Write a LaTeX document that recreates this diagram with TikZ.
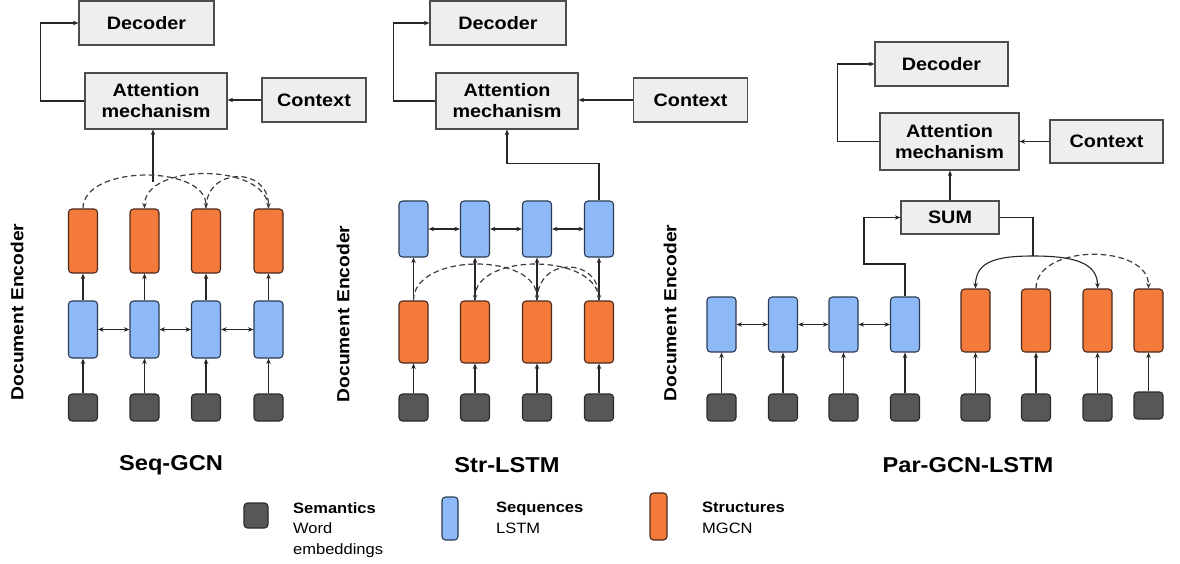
\documentclass[tikz,border=0pt]{standalone}
\usepackage{fontspec}
\setmainfont{Liberation Sans}[FakeStretch=1.1]
\usetikzlibrary{arrows.meta}
\definecolor{boxfill}{HTML}{EEEEEE}
\definecolor{boxline}{HTML}{4D4D4D}
\definecolor{orgfill}{HTML}{F37A3A}
\definecolor{orgline}{HTML}{4A2A1C}
\definecolor{bluefill}{HTML}{8DBAF6}
\definecolor{blueline}{HTML}{2B3A52}
\definecolor{semfill}{HTML}{575757}
\definecolor{semline}{HTML}{2A2A2A}
\definecolor{linec}{HTML}{262626}
\begin{document}
\begin{tikzpicture}[x=1pt,y=-1pt,
  >={Stealth[length=5.5pt,width=4.5pt]},
  box/.style={draw=boxline, fill=boxfill, line width=1.2pt, inner sep=0pt, align=center, font=\bfseries\fontsize{18}{21}\selectfont},
  sem/.style={draw=semline, fill=semfill, line width=1.1pt, rounded corners=3.5pt, minimum width=29pt, minimum height=27pt, inner sep=0pt},
  lstm/.style={draw=blueline, fill=bluefill, line width=1.1pt, rounded corners=3.5pt, minimum width=29pt, inner sep=0pt},
  gcn/.style={draw=orgline, fill=orgfill, line width=1.1pt, rounded corners=3.5pt, minimum width=29pt, inner sep=0pt},
  conn/.style={draw=linec, line width=1.1pt, ->},
  biconn/.style={draw=linec, line width=1.1pt, <->},
  dconn/.style={draw=linec!90, line width=1.2pt, dash pattern=on 5.5pt off 3.5pt, ->},
  plainln/.style={draw=linec, line width=1.1pt},
  ptitle/.style={font=\bfseries\fontsize{21.5}{24}\selectfont},
  enc/.style={font=\bfseries\fontsize{17.5}{20}\selectfont, rotate=90},
  legtxt/.style={font=\fontsize{15}{20.5}\selectfont, align=left, anchor=north west, inner sep=0pt}
]
\useasboundingbox (0,0) rectangle (1180,564);

% ---------- Panel 1: Seq-GCN ----------
\foreach \i/\x in {1/83,2/144.5,3/206,4/268.5} {
  \node[sem] (s1\i) at (\x,407.5) {};
  \node[lstm, minimum height=57pt] (b1\i) at (\x,329.5) {};
  \node[gcn, minimum height=64pt] (o1\i) at (\x,241) {};
  \draw[conn] (s1\i) -- (b1\i);
  \draw[conn] (b1\i) -- (o1\i);
}
\foreach \i/\j in {1/2,2/3,3/4} \draw[biconn] (b1\i) -- (b1\j);
\node[box, minimum width=135pt, minimum height=44pt] (d1) at (146.5,23) {Decoder};
\node[box, minimum width=142pt, minimum height=56pt] (a1) at (156,101) {Attention\\mechanism};
\node[box, minimum width=104pt, minimum height=44pt] (c1) at (314,100) {Context};
\draw[conn] (a1.west) -- ++(-44,0) |- (d1.west);
\draw[conn] (c1.west) -- (a1.east |- c1.west);
\coordinate (m1) at (153,182);
\draw[conn] (m1) -- (m1 |- a1.south);
\draw[dconn] (o11.north) .. controls +(0,-44) and +(0,-44) .. (o13.north);
\draw[dconn] (o14.north) .. controls +(0,-46) and +(0,-46) .. (o12.north);
\draw[dconn] (o13.north) .. controls +(0,-42) and +(0,-42) .. (o14.north);
\node[enc] (e1) at (17,312) {Document Encoder};
\node[ptitle] (t1) at (171,465) {Seq-GCN};

% ---------- Panel 2: Str-LSTM ----------
\foreach \i/\x in {1/413.5,2/475,3/537,4/599} {
  \node[sem] (s2\i) at (\x,407.5) {};
  \node[gcn, minimum height=62pt] (o2\i) at (\x,332) {};
  \node[lstm, minimum height=56pt] (b2\i) at (\x,229) {};
  \draw[conn] (s2\i) -- (o2\i);
  \draw[conn] (o2\i) -- (b2\i);
}
\foreach \i/\j in {1/2,2/3,3/4} \draw[biconn] (b2\i) -- (b2\j);
\node[box, minimum width=136pt, minimum height=44pt] (d2) at (498,23) {Decoder};
\node[box, minimum width=142pt, minimum height=56pt] (a2) at (507,101) {Attention\\mechanism};
\node[box, minimum width=114pt, minimum height=44pt] (c2) at (690.5,100) {Context};
\draw[conn] (a2.west) -- ++(-42,0) |- (d2.west);
\draw[conn] (c2.west) -- (a2.east |- c2.west);
\draw[conn] (b24.north) -- ++(0,-37) -| (a2.south);
\draw[dconn] (o21.north) .. controls +(0,-48) and +(0,-48) .. (o23.north);
\draw[dconn] (o24.north) .. controls +(0,-48) and +(0,-48) .. (o22.north);
\draw[dconn] (o23.north) .. controls +(0,-44) and +(0,-44) .. (o24.north);
\node[enc] (e2) at (343,314) {Document Encoder};
\node[ptitle] (t2) at (507,465) {Str-LSTM};

% ---------- Panel 3: Par-GCN-LSTM ----------
\foreach \i/\x in {1/721.5,2/783,3/843.5,4/905} {
  \node[sem] (s3\i) at (\x,407.5) {};
  \node[lstm, minimum height=55pt] (b3\i) at (\x,324.5) {};
  \draw[conn] (s3\i) -- (b3\i);
}
\foreach \i/\x/\y in {1/975.5/407.5,2/1036/407.5,3/1097.5/407.5,4/1148.5/405.5} {
  \node[sem] (g3\i) at (\x,\y) {};
  \node[gcn, minimum height=63pt] (o3\i) at (\x,320.5) {};
  \draw[conn] (g3\i) -- (o3\i);
}
\foreach \i/\j in {1/2,2/3,3/4} \draw[biconn] (b3\i) -- (b3\j);
\node[box, minimum width=133pt, minimum height=44pt] (d3) at (941.5,64) {Decoder};
\node[box, minimum width=139pt, minimum height=57pt] (a3) at (949.5,141.5) {Attention\\mechanism};
\node[box, minimum width=113pt, minimum height=43pt] (c3) at (1106.5,141.5) {Context};
\node[box, minimum width=98pt, minimum height=33pt] (sum) at (950,217.5) {SUM};
\draw[conn] (a3.west) -- ++(-42,0) |- (d3.west);
\draw[conn] (c3.west) -- (a3.east);
\draw[conn] (sum.north) -- (sum.north |- a3.south);
\coordinate (j3) at (864,264);
\draw[conn] (b34.north) |- (j3) |- (sum.west);
\coordinate (h3) at (1033,256);
\draw[plainln] (sum.east) -| (h3);
\draw[conn] (h3) .. controls (995,256) and (975.5,262) .. (o31.north);
\draw[conn] (h3) .. controls (1072,256) and (1097.5,262) .. (o33.north);
\draw[dconn] (o32.north) .. controls +(0,-45) and +(0,-45) .. (o34.north);
\node[enc] (e3) at (670,313) {Document Encoder};
\node[ptitle] (t3) at (968,465) {Par-GCN-LSTM};

% ---------- Legend ----------
\node[sem, minimum width=24pt, minimum height=25pt] (lg1) at (256,515.5) {};
\node[legtxt] (lt1) at (293,502) {\textbf{Semantics}\\Word\\embeddings};
\node[lstm, minimum width=16pt, minimum height=43pt] (lg2) at (450,518.5) {};
\node[legtxt] (lt2) at (496,502) {\textbf{Sequences}\\LSTM};
\node[gcn, minimum width=17pt, minimum height=47pt] (lg3) at (658.5,516.5) {};
\node[legtxt] (lt3) at (702,502) {\textbf{Structures}\\MGCN};
\end{tikzpicture}
\end{document}
